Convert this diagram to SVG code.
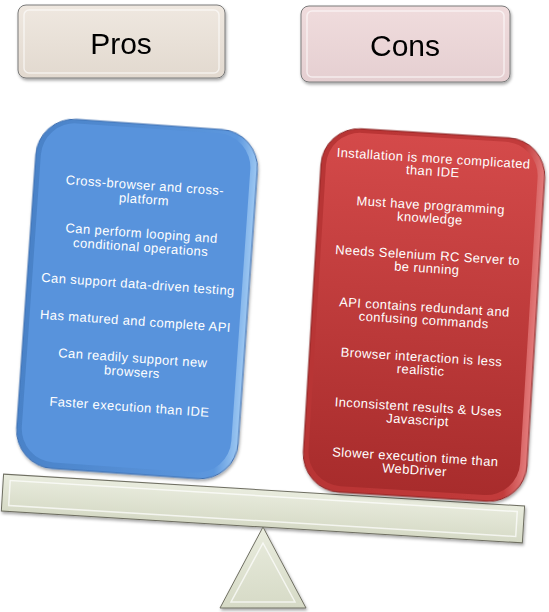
<svg xmlns="http://www.w3.org/2000/svg" width="549" height="612" viewBox="0 0 549 612">
<defs>
<filter id="sh" x="-10%" y="-10%" width="120%" height="130%"><feDropShadow dx="1" dy="2" stdDeviation="1.5" flood-color="#000" flood-opacity="0.35"/></filter>
<linearGradient id="gPros" x1="0" y1="0" x2="0" y2="1"><stop offset="0" stop-color="#efe8e0"/><stop offset="1" stop-color="#e2d9cf"/></linearGradient>
<linearGradient id="gCons" x1="0" y1="0" x2="0" y2="1"><stop offset="0" stop-color="#f0dcdd"/><stop offset="1" stop-color="#e5cfd1"/></linearGradient>
<linearGradient id="gBlueEdge" x1="0" y1="0" x2="1" y2="0"><stop offset="0" stop-color="#4a82c8"/><stop offset="0.9" stop-color="#5c97de"/><stop offset="1" stop-color="#9cc7f2"/></linearGradient>
<linearGradient id="gRed" x1="0" y1="0" x2="0" y2="1"><stop offset="0" stop-color="#d44a4a"/><stop offset="1" stop-color="#a82c2c"/></linearGradient>
<linearGradient id="gRedEdge" x1="0" y1="0" x2="1" y2="0"><stop offset="0" stop-color="#b83434"/><stop offset="0.9" stop-color="#c23b3b"/><stop offset="1" stop-color="#e47c7c"/></linearGradient>
<linearGradient id="gBeam" x1="0" y1="0" x2="0" y2="1"><stop offset="0" stop-color="#e9ecde"/><stop offset="1" stop-color="#d6dac6"/></linearGradient>
</defs>
<style>
.hd{font-family:"Liberation Sans","Open Sans",sans-serif;font-size:30px;fill:#000;text-anchor:middle}
.tx{font-family:"Liberation Sans","Open Sans",sans-serif;font-size:13px;letter-spacing:0.4px;fill:#fff;text-anchor:middle}
.hbox{stroke:#7a7a7a;stroke-width:1}
.hin{fill:none;stroke:#ffffff;stroke-opacity:0.6;stroke-width:1.5}
.stone{fill:url(#gBeam);stroke:#6f6f62;stroke-width:1}
.stonein{fill:none;stroke:#ffffff;stroke-opacity:0.7;stroke-width:1.5}
</style>

<g id="beam" filter="url(#sh)">
<rect class="stone" x="2" y="490" width="522" height="37" transform="rotate(3.5 263 508)"/>
<rect class="stonein" x="9" y="496" width="508" height="25" transform="rotate(3.5 263 508)"/>
</g>
<g id="fulcrum" filter="url(#sh)">
<polygon class="stone" points="263,527 306,608 220,608"/>
<polygon class="stonein" points="263,543 295,602 231,602"/>
</g>

<g id="pros-header" filter="url(#sh)">
<rect class="hbox" x="18" y="5" width="207" height="73" rx="8" fill="url(#gPros)"/>
<rect class="hin" x="24" y="10" width="195" height="63" rx="5"/>
<text class="hd" x="121" y="54">Pros</text>
</g>
<g id="cons-header" filter="url(#sh)">
<rect class="hbox" x="301" y="6" width="209" height="76" rx="8" fill="url(#gCons)"/>
<rect class="hin" x="307" y="11" width="197" height="66" rx="5"/>
<text class="hd" x="405" y="56">Cons</text>
</g>

<g id="pros-box" transform="rotate(4 137 299)">
<rect x="26" y="124" width="222" height="350" rx="38" fill="url(#gBlueEdge)" stroke="#3d6eb0" stroke-width="1" filter="url(#sh)"/>
<rect x="31" y="128" width="210" height="340" rx="34" fill="#5893dc"/>
<text class="tx" x="137" y="189.5">Cross-browser and cross-</text>
<text class="tx" x="137" y="203.5">platform</text>
<text class="tx" x="137" y="237.5">Can perform looping and</text>
<text class="tx" x="137" y="251.5">conditional operations</text>
<text class="tx" x="137" y="288.5">Can support data-driven testing</text>
<text class="tx" x="137" y="325.5">Has matured and complete API</text>
<text class="tx" x="137" y="362.5">Can readily support new</text>
<text class="tx" x="137" y="376.5">browsers</text>
<text class="tx" x="137" y="411.5">Faster execution than IDE</text>
</g>

<g id="cons-box" transform="rotate(3.5 424 315)">
<rect x="312" y="133" width="224" height="364" rx="38" fill="url(#gRedEdge)" stroke="#8a2222" stroke-width="1" filter="url(#sh)"/>
<rect x="317" y="137" width="212" height="354" rx="34" fill="url(#gRed)"/>
<text class="tx" x="424" y="162.5">Installation is more complicated</text>
<text class="tx" x="424" y="175.5">than IDE</text>
<text class="tx" x="424" y="209.5">Must have programming</text>
<text class="tx" x="424" y="222.5">knowledge</text>
<text class="tx" x="424" y="259.5">Needs Selenium RC Server to</text>
<text class="tx" x="424" y="272.5">be running</text>
<text class="tx" x="424" y="311.5">API contains redundant and</text>
<text class="tx" x="424" y="324.5">confusing commands</text>
<text class="tx" x="424" y="361.5">Browser interaction is less</text>
<text class="tx" x="424" y="374.5">realistic</text>
<text class="tx" x="424" y="411.5">Inconsistent results &amp; Uses</text>
<text class="tx" x="424" y="424.5">Javascript</text>
<text class="tx" x="424" y="461.5">Slower execution time than</text>
<text class="tx" x="424" y="474.5">WebDriver</text>
</g>
</svg>
